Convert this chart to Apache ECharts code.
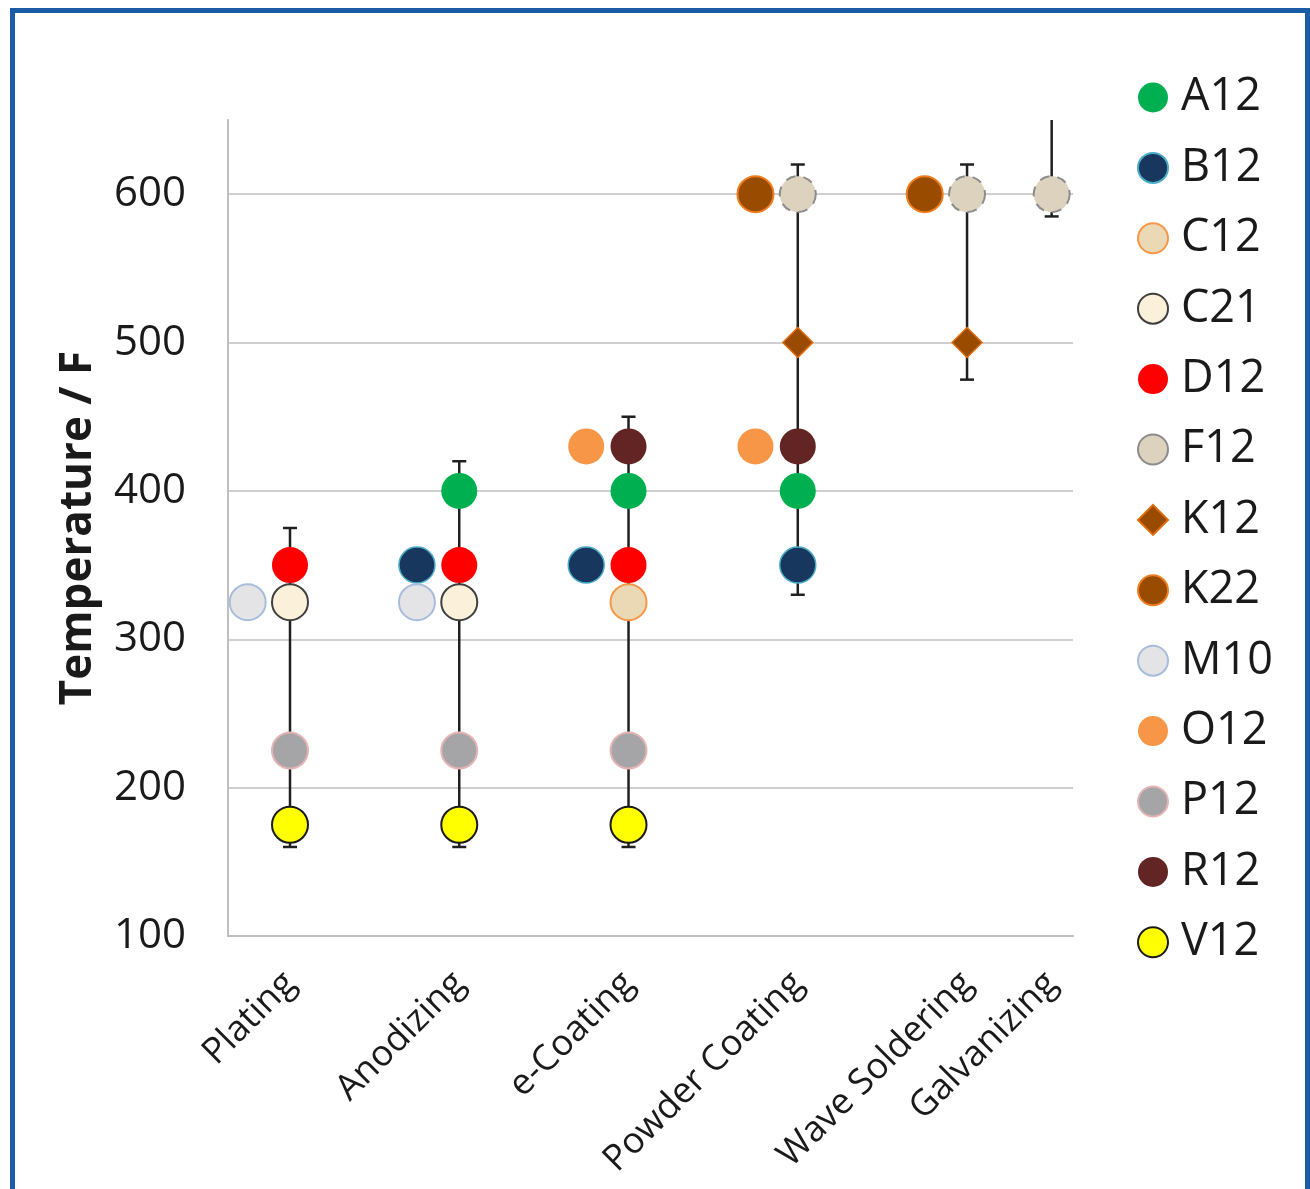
<!DOCTYPE html>
<html>
<head>
<meta charset="utf-8">
<script src="https://cdn.jsdelivr.net/npm/echarts@6/dist/echarts.min.js"></script>
<style>
html,body{margin:0;padding:0;background:#fff;}
#chart{width:1310px;height:1189px;}
</style>
</head>
<body>
<div id="chart"></div>
<script>
// ---- data ----
const categories = ['Plating', 'Anodizing', 'e-Coating', 'Powder Coating', 'Wave Soldering', 'Galvanizing'];
const yTicks = [100, 200, 300, 400, 500, 600];
const errLow  = [160, 160, 160, 330, 475, 585];
const errHigh = [375, 420, 450, 620, 620, 700];

const A12 = [null, 400, 400, 400, null, null];
const B12 = [null, 350, 350, 350, null, null];
const C12 = [null, null, 325, null, null, null];
const C21 = [325, 325, null, null, null, null];
const D12 = [350, 350, 350, null, null, null];
const F12 = [null, null, null, 600, 600, 600];
const K12 = [null, null, null, 500, 500, null];
const K22 = [null, null, null, 600, 600, null];
const M10 = [325, 325, null, null, null, null];
const O12 = [null, null, 430, 430, null, null];
const P12 = [225, 225, 225, null, null, null];
const R12 = [null, null, 430, 430, null, null];
const V12 = [175, 175, 175, null, null, null];

// points drawn beside (left of) their category
const besideLeft = {
  B12: ['Anodizing', 'e-Coating'],
  K22: ['Powder Coating', 'Wave Soldering'],
  M10: ['Plating', 'Anodizing'],
  O12: ['e-Coating', 'Powder Coating']
};

// ---- layout ----
const categoryX = [1, 2, 3, 4, 5, 5.5];
const SHIFT = 0.25;

const seriesDefs = [
  {name: 'A12', values: A12, style: {color: '#00B050'}},
  {name: 'B12', values: B12, style: {color: '#17375E', borderColor: '#4BACC6', borderWidth: 1.5}},
  {name: 'C12', values: C12, style: {color: '#EAD9B4', borderColor: '#F79646', borderWidth: 2}},
  {name: 'C21', values: C21, style: {color: '#FBF0DA', borderColor: '#3F3F3F', borderWidth: 2}},
  {name: 'D12', values: D12, style: {color: '#FF0000'}},
  {name: 'F12', values: F12, style: {color: '#DDD2BE', borderColor: '#8C8C8C', borderWidth: 2, borderType: [10, 8]}},
  {name: 'K12', values: K12, symbol: 'diamond', size: 30, style: {color: '#994C00', borderColor: '#E36C09', borderWidth: 1.5}},
  {name: 'K22', values: K22, style: {color: '#994C00', borderColor: '#F07D1E', borderWidth: 2}},
  {name: 'M10', values: M10, style: {color: '#E4E4E6', borderColor: '#A8BDDC', borderWidth: 2}},
  {name: 'O12', values: O12, style: {color: '#F79646'}},
  {name: 'P12', values: P12, style: {color: '#A5A5A8', borderColor: '#E6B4B4', borderWidth: 2}},
  {name: 'R12', values: R12, style: {color: '#632523'}},
  {name: 'V12', values: V12, style: {color: '#FFFF00', borderColor: '#1A1A1A', borderWidth: 2}}
];

const FONT = '"Open Sans", "Liberation Sans", sans-serif';

const series = [{
  type: 'custom',
  name: 'range',
  clip: true,
  z: 1,
  silent: true,
  encode: {x: 0, y: [1, 2]},
  data: categoryX.map((x, i) => [x, errLow[i], errHigh[i]]),
  renderItem: function (params, api) {
    const x = api.value(0);
    const lo = api.coord([x, api.value(1)]);
    const hi = api.coord([x, api.value(2)]);
    const cap = 7;
    const st = {stroke: '#202020', lineWidth: 2.5};
    return {
      type: 'group',
      children: [
        {type: 'line', shape: {x1: lo[0], y1: lo[1], x2: hi[0], y2: hi[1]}, style: st},
        {type: 'line', shape: {x1: lo[0] - cap, y1: lo[1], x2: lo[0] + cap, y2: lo[1]}, style: st},
        {type: 'line', shape: {x1: hi[0] - cap, y1: hi[1], x2: hi[0] + cap, y2: hi[1]}, style: st}
      ]
    };
  }
}];

seriesDefs.forEach(d => {
  const data = [];
  d.values.forEach((v, i) => {
    if (v == null) return;
    const shifted = besideLeft[d.name] && besideLeft[d.name].indexOf(categories[i]) >= 0;
    data.push([categoryX[i] - (shifted ? SHIFT : 0), v]);
  });
  series.push({
    type: 'scatter',
    name: d.name,
    symbol: d.symbol || 'circle',
    symbolSize: d.size || 36,
    z: 3,
    itemStyle: Object.assign({opacity: 1}, d.style),
    emphasis: {disabled: true},
    data: data
  });
});

const chart = echarts.init(document.getElementById('chart'), null, {renderer: 'canvas'});
chart.setOption({
  animation: false,
  backgroundColor: '#ffffff',
  textStyle: {fontFamily: FONT},
  graphic: [{
    type: 'rect',
    silent: true,
    z: 100,
    shape: {x: 12.5, y: 10.5, width: 1295, height: 1230},
    style: {fill: null, stroke: '#1A5DA4', lineWidth: 5}
  }],
  grid: {left: 228, right: 237, top: 120, bottom: 253, containLabel: false},
  legend: {
    orient: 'vertical',
    left: 1132,
    top: 70,
    itemWidth: 30,
    itemHeight: 30,
    itemGap: 25.4,
    data: seriesDefs.map(d => d.name),
    textStyle: {fontFamily: FONT, fontSize: 45, lineHeight: 44, color: '#1a1a1a', padding: [0, 0, 0, 8]},
    selectedMode: false
  },
  xAxis: {
    type: 'value',
    min: 0.6337,
    max: 5.626,
    splitLine: {show: false},
    axisTick: {show: false},
    axisLine: {show: true, lineStyle: {color: '#BFBFBF', width: 2}},
    axisLabel: {
      customValues: categoryX,
      rotate: 45,
      margin: 42,
      fontSize: 36,
      color: '#1a1a1a',
      fontFamily: FONT,
      formatter: v => {
        const i = categoryX.indexOf(v);
        return i >= 0 ? categories[i] : '';
      }
    }
  },
  yAxis: {
    type: 'value',
    min: yTicks[0],
    max: 650,
    interval: 100,
    name: 'Temperature / F',
    nameLocation: 'middle',
    nameRotate: 90,
    nameGap: 128,
    nameTextStyle: {fontSize: 44, fontWeight: 'bold', color: '#1a1a1a', fontFamily: FONT},
    axisLine: {show: true, lineStyle: {color: '#BFBFBF', width: 2}},
    axisTick: {show: false},
    splitLine: {show: true, showMinLine: false, showMaxLine: false, lineStyle: {color: '#CFCFCF', width: 2}},
    axisLabel: {
      fontSize: 42,
      color: '#1a1a1a',
      margin: 42,
      fontFamily: FONT,
      showMaxLabel: false,
      formatter: v => (yTicks.indexOf(v) >= 0 ? String(v) : '')
    }
  },
  series: series
});
</script>
</body>
</html>
